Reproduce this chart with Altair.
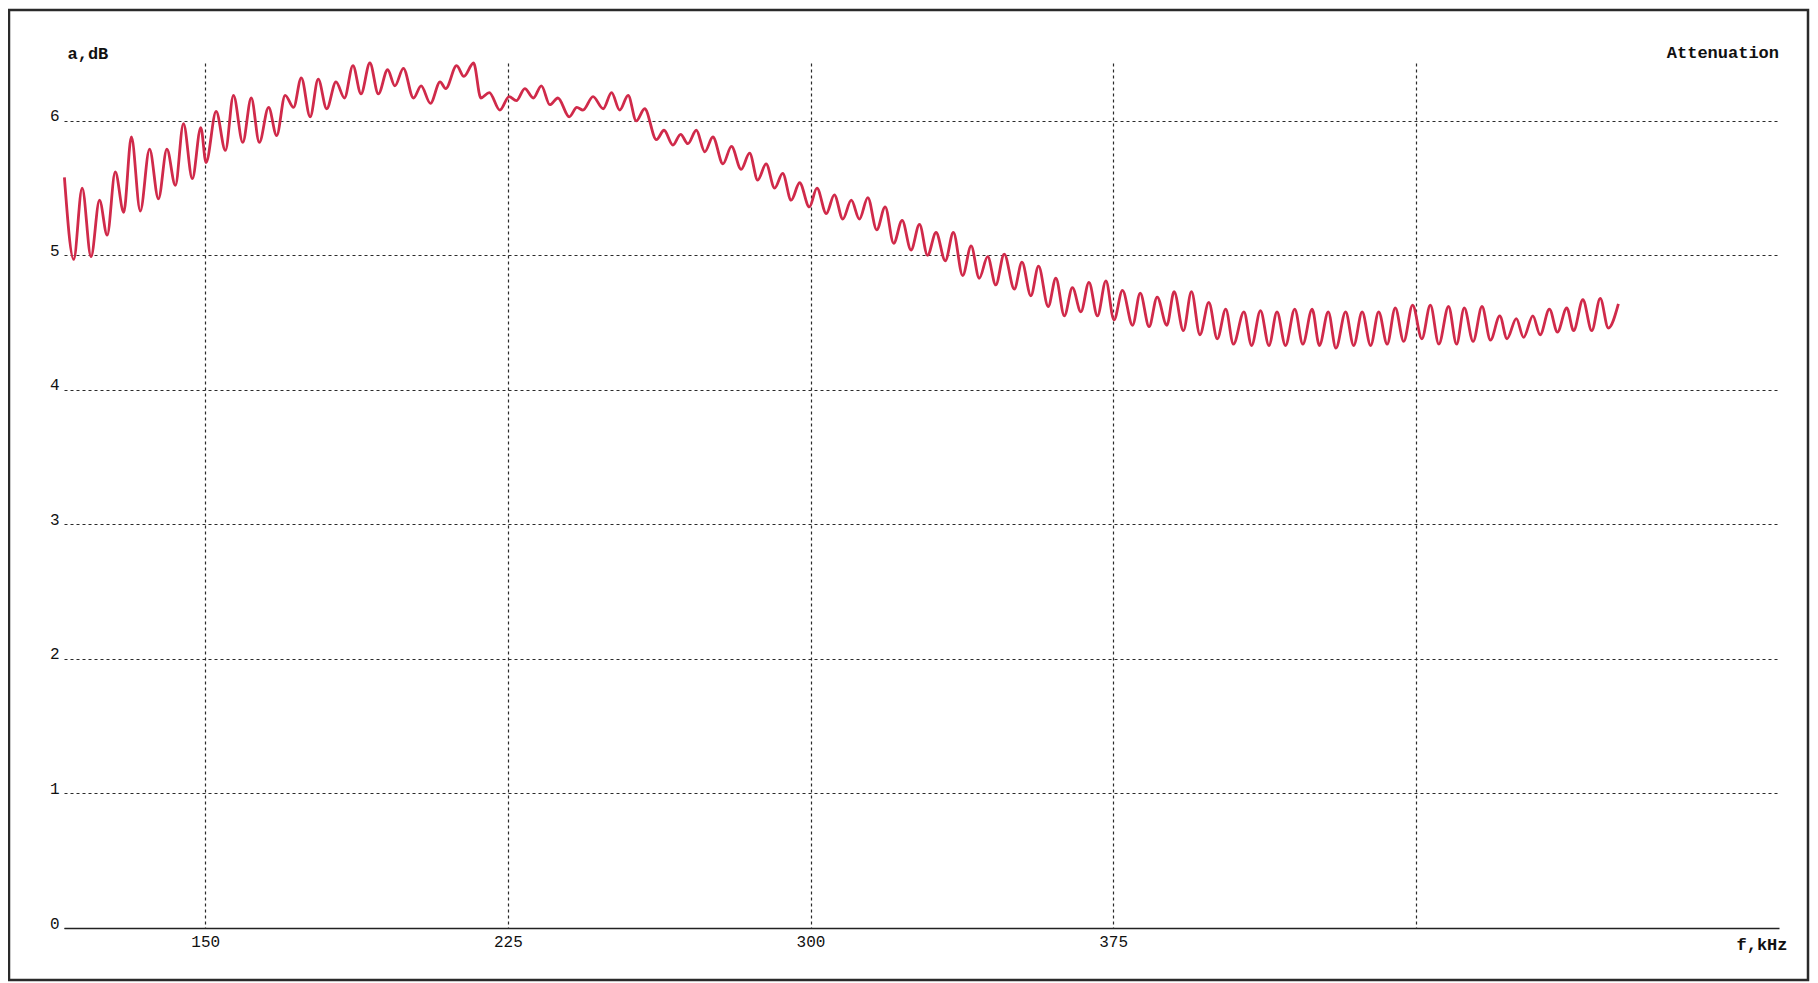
import altair as alt
import pandas as pd

# frequency (kHz) of successive ripple peaks/troughs
freq_khz = [
    115.1, 117.4, 119.5, 121.7, 123.8, 125.7, 127.7, 129.8, 131.7, 133.9,
    136.2, 138.4, 140.5, 142.6, 144.6, 146.8, 148.9, 150.2, 152.7, 155.0,
    157.0, 159.3, 161.4, 163.4, 165.7, 167.7, 169.8, 171.9, 173.8, 176.0,
    178.0, 180.1, 182.4, 184.5, 186.6, 188.6, 190.8, 192.9, 195.2, 197.0,
    199.1, 201.6, 203.5, 205.8, 208.2, 209.6, 212.3, 214.1, 216.5, 218.3,
    220.4, 223.0, 225.3, 227.1, 229.2, 231.3, 233.3, 235.4, 237.4, 240.2,
    242.1, 243.6, 246.1, 248.6, 250.7, 252.7, 254.8, 256.8, 258.9, 261.8,
    263.7, 265.9, 267.8, 269.6, 271.7, 273.8, 275.8, 278.3, 280.4, 282.8,
    284.9, 286.9, 289.0, 291.1, 293.1, 295.2, 297.3, 299.7, 301.6, 303.9,
    305.9, 308.0, 310.1, 312.1, 314.2, 316.4, 318.5, 320.6, 322.7, 324.9,
    327.0, 329.0, 331.1, 333.4, 335.4, 337.7, 339.8, 341.8, 343.9, 345.9,
    348.0, 350.5, 352.4, 354.6, 356.5, 358.9, 360.8, 362.9, 364.9, 367.0,
    369.0, 371.1, 373.2, 375.2, 377.3, 379.8, 381.7, 383.9, 385.9, 388.3,
    390.1, 392.4, 394.4, 396.5, 398.7, 400.8, 402.9, 404.8, 407.4, 409.3,
    411.5, 413.6, 415.6, 417.7, 420.0, 422.0, 424.3, 426.1, 428.3, 430.2,
    432.6, 434.6, 436.7, 438.8, 440.8, 442.9, 444.9, 447.0, 449.2, 451.5,
    453.6, 455.7, 458.1, 460.1, 462.0, 464.2, 466.4, 468.5, 470.8, 472.6,
    474.9, 476.7, 479.0, 480.8, 483.1, 485.1, 487.4, 489.1, 491.4, 493.6,
    495.7, 497.7, 500.2,
]

# attenuation (dB) at those points
atten_db = [
    5.58, 4.97, 5.50, 4.99, 5.41, 5.15, 5.62, 5.32, 5.88, 5.33,
    5.79, 5.42, 5.79, 5.52, 5.98, 5.57, 5.95, 5.69, 6.07, 5.78,
    6.19, 5.84, 6.17, 5.84, 6.10, 5.89, 6.19, 6.10, 6.32, 6.03,
    6.31, 6.09, 6.29, 6.17, 6.41, 6.20, 6.43, 6.20, 6.38, 6.26,
    6.39, 6.17, 6.26, 6.13, 6.29, 6.24, 6.41, 6.33, 6.43, 6.17,
    6.21, 6.08, 6.18, 6.15, 6.24, 6.17, 6.26, 6.12, 6.17, 6.03,
    6.10, 6.08, 6.18, 6.09, 6.21, 6.08, 6.19, 6.00, 6.09, 5.86,
    5.93, 5.82, 5.90, 5.83, 5.93, 5.77, 5.88, 5.68, 5.81, 5.64,
    5.76, 5.56, 5.68, 5.50, 5.61, 5.41, 5.54, 5.36, 5.50, 5.31,
    5.45, 5.27, 5.41, 5.27, 5.43, 5.19, 5.36, 5.09, 5.26, 5.04,
    5.23, 5.00, 5.17, 4.96, 5.17, 4.85, 5.07, 4.83, 4.99, 4.78,
    5.01, 4.75, 4.95, 4.70, 4.92, 4.62, 4.83, 4.55, 4.76, 4.58,
    4.80, 4.55, 4.81, 4.52, 4.74, 4.48, 4.72, 4.47, 4.69, 4.48,
    4.73, 4.44, 4.73, 4.41, 4.65, 4.38, 4.60, 4.34, 4.58, 4.33,
    4.59, 4.33, 4.58, 4.33, 4.60, 4.34, 4.60, 4.33, 4.58, 4.31,
    4.58, 4.33, 4.58, 4.33, 4.58, 4.34, 4.61, 4.36, 4.63, 4.38,
    4.63, 4.34, 4.62, 4.34, 4.61, 4.36, 4.62, 4.37, 4.55, 4.38,
    4.53, 4.39, 4.55, 4.41, 4.60, 4.43, 4.61, 4.44, 4.67, 4.44,
    4.68, 4.46, 4.64,
]

x_ticks = [150, 225, 300, 375, 450]
y_ticks = [0, 1, 2, 3, 4, 5, 6]
x_domain = [115, 540]
y_domain = [0, 6.43]

chart_title = "Attenuation"
x_title = "f,kHz"
y_title = "a,dB"

W, H = 1715, 865
FONT = "Liberation Mono"
GRID = "#2b2b2b"

df = pd.DataFrame({"f": freq_khz, "a": atten_db})

line = alt.Chart(df).mark_line(
    color="#d02a4a", strokeWidth=2.8, interpolate="monotone"
).encode(
    x=alt.X(
        "f:Q",
        scale=alt.Scale(domain=x_domain, nice=False, zero=False),
        axis=alt.Axis(
            values=x_ticks,
            labelExpr="datum.value == 450 ? '' : datum.label",
            title=x_title,
            titleX=W + 8,
            titleY=21,
            titleAlign="right",
            titleBaseline="alphabetic",
            titleFont=FONT,
            titleFontSize=17,
            titleFontWeight="bold",
            titleColor="#111",
            labelFont=FONT,
            labelFontSize=16,
            labelColor="#111",
            labelPadding=5,
            ticks=False,
            domain=True,
            domainColor="#222",
            domainWidth=1.6,
            grid=True,
            gridColor=GRID,
            gridDash=[3, 3],
            gridWidth=1.2,
        ),
    ),
    y=alt.Y(
        "a:Q",
        scale=alt.Scale(domain=y_domain, nice=False, zero=True),
        axis=alt.Axis(
            values=y_ticks,
            title=y_title,
            titleAngle=0,
            titleX=3,
            titleY=-5,
            titleAlign="left",
            titleBaseline="alphabetic",
            titleFont=FONT,
            titleFontSize=17,
            titleFontWeight="bold",
            titleColor="#111",
            labelFont=FONT,
            labelFontSize=16,
            labelColor="#111",
            labelBaseline="alphabetic",
            labelAlign="right",
            labelPadding=5,
            ticks=False,
            domain=False,
            grid=True,
            gridColor=GRID,
            gridDash=[3, 3],
            gridWidth=1.2,
        ),
    ),
)

one = alt.Data(values=[{"k": 1}])

title_text = alt.Chart(one).mark_text(
    text=chart_title, align="right", baseline="alphabetic",
    font=FONT, fontSize=17, fontWeight="bold", color="#111",
).encode(x=alt.value(W), y=alt.value(-5))

frame = alt.Chart(one).mark_rect(
    fill=None, stroke="#2a2a2a", strokeWidth=2.5, clip=False
).encode(
    x=alt.value(-55), x2=alt.value(W + 29),
    y=alt.value(-53), y2=alt.value(H + 52),
)

chart = alt.layer(frame, line, title_text).properties(
    width=W, height=H,
    autosize=alt.AutoSizeParams(type="none"),
    padding={"left": 56, "top": 55, "right": 31, "bottom": 54},
    background="white",
).configure_view(stroke=None)

chart.save("out.html", embed_options={"renderer": "svg", "actions": False})
